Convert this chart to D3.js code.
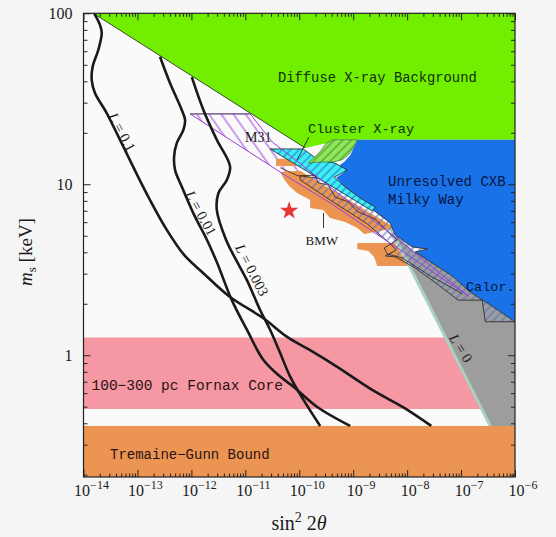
<!DOCTYPE html>
<html>
<head>
<meta charset="utf-8">
<script src="https://cdn.jsdelivr.net/npm/d3@7"></script>
<style>
  body { margin: 0; background: #f5f5f5; }
  svg { display: block; }
</style>
</head>
<body>
<script>
// axis extent: sin^2 2theta and m_s [keV]
const xDomain = [1e-14, 1e-6];
const yDomain = [0.194, 100];
const xTickExponents = [-14, -13, -12, -11, -10, -9, -8, -7, -6];
const yTickLabels = [[1, '1'], [10, '10'], [100, '100']];

// horizontal bands, [m low, m high] in keV
const fornaxBand = [0.485, 1.27];
const tremaineGunnBand = [0.194, 0.386];

// regions as [sin^2 2theta, m_s]
const dxbRegion = [[1.52e-14, 100], [1e-6, 100], [1e-6, 18.2], [1.19e-9, 18.2], [4.26e-10, 18.2],
  [3.15e-10, 17.4], [1.29e-10, 16.3]];
const dxbEdge = [[1.52e-14, 100], [1.29e-10, 16.3]];

const cxbRegion = [[1.19e-9, 18.2], [1e-6, 18.2], [1e-6, 1.57], [3.48e-7, 1.97], [1.48e-7, 2.34],
  [6.87e-8, 2.91], [3.32e-8, 3.37], [1.41e-8, 4.02], [2.36e-8, 4.18], [1.24e-8, 4.30],
  [6.01e-9, 5.05], [4.85e-9, 5.94], [2.35e-9, 7.08], [1.09e-9, 8.55], [7.11e-10, 9.51],
  [4.84e-10, 10.9], [7.41e-10, 12.0], [4.84e-10, 12.5], [6.81e-10, 13.5], [8.79e-10, 14.8],
  [1.04e-9, 16.5]];

const calorRegion = [[4.85e-9, 5.55], [3.48e-7, 0.386], [1e-6, 0.386], [1e-6, 1.57],
  [3.48e-7, 1.97], [1.48e-7, 2.34], [6.87e-8, 2.91], [3.32e-8, 3.37], [1.41e-8, 4.02],
  [6.01e-9, 5.05]];
const zeroLepton = [[4.85e-9, 5.55], [3.48e-7, 0.386]];

const m31Region = [[9.46e-13, 25.8], [1.23e-11, 25.8], [3.14e-11, 17.7], [3.74e-10, 9.64],
  [7.45e-9, 4.66], [1.36e-7, 2.22], [7.45e-9, 4.13], [3.74e-10, 7.78], [5.47e-11, 11.3]];

const clusterCyan = [[2.88e-11, 16.1], [1.18e-10, 16.1], [2.25e-10, 13.9], [4.63e-10, 13.3],
  [7.75e-10, 12.1], [4.43e-10, 11.0], [7.11e-10, 9.64], [1.35e-9, 8.31], [2.56e-9, 7.36],
  [2.26e-9, 6.98]];
const clusterGreen = [[1.46e-10, 13.3], [2.44e-10, 15.5], [3.15e-10, 17.4], [4.26e-10, 18.2],
  [1.19e-9, 18.2], [1.0e-9, 16.3], [8.07e-10, 14.8], [6.25e-10, 13.9], [4.26e-10, 13.5],
  [2.44e-10, 13.5]];

const bmwTop = [[3.72e-11, 14.1], [1.0e-10, 14.1], [1.1e-10, 12.8], [3.72e-11, 12.8]];
const bmwMid = [[4.43e-11, 11.8], [1.04e-10, 12.0], [6.01e-9, 5.55], [1.60e-9, 5.12],
  [1.19e-9, 5.55], [7.11e-10, 6.02], [3.74e-10, 6.35], [2.77e-10, 7.08], [1.59e-10, 7.27],
  [1.59e-10, 8.09], [9.14e-11, 8.89], [6.50e-11, 9.77], [5.25e-11, 10.7]];
const bmwLow = [[1.19e-9, 4.54], [6.01e-9, 4.54], [1.05e-8, 3.33], [2.79e-9, 3.33],
  [2.45e-9, 3.76], [1.90e-9, 4.07], [1.19e-9, 4.18]];

const hatchedBand = [[1.04e-10, 11.2], [4.84e-10, 10.5], [1.09e-9, 8.55], [2.35e-9, 7.08],
  [4.85e-9, 5.94], [6.01e-9, 5.05], [1.24e-8, 4.30], [2.36e-8, 4.18], [1.41e-8, 4.02],
  [3.32e-8, 3.37], [6.87e-8, 2.91], [1.48e-7, 2.34], [3.48e-7, 1.97], [1e-6, 1.57],
  [2.81e-7, 1.57], [2.47e-7, 2.10], [8.87e-8, 2.10], [3.78e-8, 2.58], [1.41e-8, 3.24],
  [6.01e-9, 3.76], [3.93e-9, 3.81], [6.28e-9, 4.13], [4.46e-9, 4.60], [1.82e-9, 5.86],
  [3.74e-10, 8.09], [1.04e-10, 10.6]];
const bmwEdge = [[4.43e-11, 12.5], [9.55e-11, 11.2], [1.97e-10, 11.3], [2.25e-10, 10.2],
  [3.44e-10, 9.91], [4.63e-10, 8.43], [8.07e-10, 7.88], [1.24e-9, 6.89], [2.56e-9, 6.27],
  [4.46e-9, 5.26], [6.55e-9, 4.72], [3.76e-9, 4.24], [4.28e-9, 3.91], [8.11e-9, 3.71],
  [2.69e-8, 2.91], [8.49e-8, 2.38], [1.05e-7, 2.28]];

// lepton asymmetry curves
const curveL01 = [[1.58e-14, 100], [2.02e-14, 85.5], [2.18e-14, 76.7], [1.88e-14, 61.0],
  [1.48e-14, 48.8], [1.42e-14, 40.7], [1.63e-14, 34.2], [2.69e-14, 26.1], [4.75e-14, 18.2],
  [8.39e-14, 12.6], [1.71e-13, 8.09], [3.50e-13, 5.41], [7.33e-13, 3.86], [1.65e-12, 3.03],
  [5.22e-12, 2.19], [2.14e-11, 1.65], [5.96e-11, 1.28], [1.59e-10, 1.07], [5.05e-10, 0.855],
  [2.25e-9, 0.627], [8.83e-9, 0.492], [2.80e-8, 0.386]];
const curveL001 = [[2.62e-13, 55.7], [4.03e-13, 39.0], [6.64e-13, 27.2], [7.64e-13, 23.8],
  [7.11e-13, 20.8], [5.36e-13, 17.4], [4.78e-13, 14.5], [4.99e-13, 12.1], [6.64e-13, 9.68],
  [1.09e-12, 6.76], [1.95e-12, 4.72], [3.00e-12, 3.47], [5.62e-12, 2.10], [1.07e-11, 1.41],
  [2.17e-11, 0.938], [4.43e-11, 0.750], [7.80e-11, 0.655], [2.12e-10, 0.500], [8.79e-10, 0.386]];
const curveL0003 = [[1.02e-12, 42.3], [1.67e-12, 27.2], [2.96e-12, 18.2], [5.22e-12, 12.7],
  [4.54e-12, 10.6], [3.17e-12, 8.86], [2.96e-12, 7.08], [4.41e-12, 4.72], [6.75e-12, 3.61],
  [1.07e-11, 2.75], [1.88e-11, 1.84], [2.88e-11, 1.41], [4.43e-11, 1.03], [6.78e-11, 0.750],
  [1.20e-10, 0.548], [2.44e-10, 0.386]];

const starPoint = [6.5e-11, 7.0];

const margin = { top: 13.3, left: 83.5 };
const width = 431.5;
const height = 463.7;

const svg = d3.select('body')
    .append('svg')
    .attr('width', 556)
    .attr('height', 537);

const defs = svg.append('defs');
defs.append('clipPath').attr('id', 'plot-clip')
    .append('rect').attr('width', width).attr('height', height);

function hatch(id, color, spacing, angle, lw) {
    const p = defs.append('pattern')
        .attr('id', id)
        .attr('patternUnits', 'userSpaceOnUse')
        .attr('width', spacing)
        .attr('height', spacing)
        .attr('patternTransform', `rotate(${angle})`);
    p.append('line')
        .attr('x1', spacing / 2).attr('y1', 0)
        .attr('x2', spacing / 2).attr('y2', spacing)
        .attr('stroke', color)
        .attr('stroke-width', lw);
}
hatch('hatch-blue', '#4a6fc4', 6, 45, 1);
hatch('hatch-cyan', '#2b62d4', 6, 45, 1);
hatch('hatch-green', '#3d8c2c', 6, 45, 1);
hatch('hatch-purple', '#a040e0', 10, -35, 1);

const x = d3.scaleLog().domain(xDomain).range([0, width]);
const y = d3.scaleLog().domain(yDomain).range([height, 0]);

const line = d3.line().x(d => x(d[0])).y(d => y(d[1]));
const smooth = d3.line().x(d => x(d[0])).y(d => y(d[1])).curve(d3.curveCatmullRom.alpha(0.5));
const closed = pts => line(pts) + 'Z';

const g = svg.append('g')
    .attr('transform', `translate(${margin.left}, ${margin.top})`);

g.append('rect')
    .attr('width', width)
    .attr('height', height)
    .attr('fill', '#fafafa');

const plot = g.append('g').attr('clip-path', 'url(#plot-clip)');

// bands
plot.append('rect')
    .attr('x', x(xDomain[0]))
    .attr('width', x(xDomain[1]) - x(xDomain[0]))
    .attr('y', y(fornaxBand[1]))
    .attr('height', y(fornaxBand[0]) - y(fornaxBand[1]))
    .attr('fill', '#f598a4');

plot.append('rect')
    .attr('x', x(xDomain[0]))
    .attr('width', x(xDomain[1]) - x(xDomain[0]))
    .attr('y', y(tremaineGunnBand[1]))
    .attr('height', y(tremaineGunnBand[0]) - y(tremaineGunnBand[1]))
    .attr('fill', '#ec9552');

// diffuse X-ray background
plot.append('path').attr('d', closed(dxbRegion)).attr('fill', '#72ee00');
plot.append('path').attr('d', line(dxbEdge)).attr('fill', 'none')
    .attr('stroke', '#2a3a2a').attr('stroke-width', 0.9);

// M31 hatch (outline drawn later)
plot.append('path').attr('d', closed(m31Region)).attr('fill', 'url(#hatch-purple)');

// calorimeter / L=0 region
plot.append('path').attr('d', closed(calorRegion)).attr('fill', '#9d9d9d');

// BMW patches
[bmwTop, bmwMid, bmwLow].forEach(p => {
    plot.append('path').attr('d', closed(p)).attr('fill', '#ec9552');
});

// unresolved CXB / Milky Way
plot.append('path').attr('d', closed(cxbRegion)).attr('fill', '#1a72e8');

plot.append('path').attr('d', line(zeroLepton)).attr('fill', 'none')
    .attr('stroke', '#abcfc0').attr('stroke-width', 3);

// hatched band
plot.append('path').attr('d', closed(hatchedBand))
    .attr('fill', 'url(#hatch-blue)')
    .attr('stroke', '#222').attr('stroke-width', 0.8);

// cluster X-ray
plot.append('path').attr('d', closed(clusterCyan)).attr('fill', '#3cf0f2');
plot.append('path').attr('d', closed(clusterCyan)).attr('fill', 'url(#hatch-cyan)')
    .attr('stroke', '#222').attr('stroke-width', 0.8);
plot.append('path').attr('d', closed(clusterGreen)).attr('fill', '#8ee65a');
plot.append('path').attr('d', closed(clusterGreen)).attr('fill', 'url(#hatch-green)')
    .attr('stroke', '#2f5f2a').attr('stroke-width', 0.6);

plot.append('path').attr('d', line(bmwEdge)).attr('fill', 'none')
    .attr('stroke', '#222').attr('stroke-width', 0.8);

// M31 outline
plot.append('path').attr('d', closed(m31Region)).attr('fill', 'none')
    .attr('stroke', '#9a3fd8').attr('stroke-width', 1);
plot.append('path').attr('d', line(m31Region.slice(0, 2))).attr('fill', 'none')
    .attr('stroke', '#666').attr('stroke-width', 1);

// L curves
[curveL01, curveL001, curveL0003].forEach(c => {
    plot.append('path').attr('d', smooth(c)).attr('fill', 'none')
        .attr('stroke', '#1a1a1a').attr('stroke-width', 2.6);
});

// star
plot.append('path')
    .attr('d', d3.symbol(d3.symbolStar).size(104)())
    .attr('transform', `translate(${x(starPoint[0])}, ${y(starPoint[1])})`)
    .attr('fill', '#e63535');

// annotations (page pixels)
const ann = svg.append('g').attr('font-family', '"Liberation Mono", monospace');
const mono = (t, px, py, size, color) => ann.append('text')
    .attr('x', px).attr('y', py)
    .attr('font-size', size)
    .attr('fill', color)
    .text(t);
mono('Diffuse X-ray Background', 278, 82, 13.8, '#10300a');
mono('Cluster X-ray', 308, 132.5, 13.6, '#10300a');
mono('Unresolved CXB', 388, 186, 14, '#061640');
mono('Milky Way', 388, 203.5, 14, '#061640');
mono('Calor.', 466, 291, 13.5, '#061640');
mono('100\u2212300 pc Fornax Core', 91.5, 389.5, 14.5, '#2a1212');
mono('Tremaine\u2212Gunn Bound', 110, 458.5, 14, '#2a1212');

const serif = svg.append('g').attr('font-family', '"Liberation Serif", serif').attr('fill', '#1a1a1a');
serif.append('text').attr('x', 245).attr('y', 141.5).attr('font-size', 14).text('M31');
serif.append('text').attr('x', 305.5).attr('y', 245).attr('font-size', 13).text('BMW');

svg.append('line').attr('x1', 309).attr('y1', 137).attr('x2', 297).attr('y2', 160)
    .attr('stroke', '#222').attr('stroke-width', 0.9);
svg.append('line').attr('x1', 323.5).attr('y1', 213).attr('x2', 323.5).attr('y2', 228)
    .attr('stroke', '#222').attr('stroke-width', 0.9);

const lLabel = (val, cx, cy, angle) => {
    const t = serif.append('text')
        .attr('transform', `translate(${cx}, ${cy}) rotate(${angle})`)
        .attr('text-anchor', 'middle')
        .attr('dy', '0.35em')
        .attr('font-size', 14.5);
    t.append('tspan').attr('font-style', 'italic').text('L');
    t.append('tspan').text(' = ' + val);
};
lLabel('0.1', 122, 132, 62);
lLabel('0.01', 201, 213, 61);
lLabel('0.003', 252, 270, 63);
lLabel('0', 461, 348, 58);

// frame and ticks
g.append('rect')
    .attr('width', width)
    .attr('height', height)
    .attr('fill', 'none')
    .attr('stroke', '#222')
    .attr('stroke-width', 1.2);

const xMajor = xTickExponents.map(e => Math.pow(10, e));
const xMinor = [];
xTickExponents.slice(0, -1).forEach(e => {
    for (let k = 2; k <= 9; k++) xMinor.push(k * Math.pow(10, e));
});
const yMinor = [];
[-1, 0, 1].forEach(e => {
    for (let k = 2; k <= 9; k++) {
        const v = k * Math.pow(10, e);
        if (v >= yDomain[0] && v <= yDomain[1]) yMinor.push(v);
    }
});
const yMajor = yTickLabels.map(d => d[0]);

function ticks(axis, vals, size, transform) {
    g.append('g')
        .attr('transform', transform)
        .call(axis.tickValues(vals).tickSize(-size).tickFormat(''))
        .call(s => s.select('.domain').remove())
        .call(s => s.selectAll('line').attr('stroke', '#222'));
}
ticks(d3.axisBottom(x), xMajor, 7, `translate(0, ${height})`);
ticks(d3.axisBottom(x), xMinor, 3.5, `translate(0, ${height})`);
ticks(d3.axisTop(x), xMajor, 7, 'translate(0, 0)');
ticks(d3.axisTop(x), xMinor, 3.5, 'translate(0, 0)');
ticks(d3.axisLeft(y), yMajor, 7, 'translate(0, 0)');
ticks(d3.axisLeft(y), yMinor, 4, 'translate(0, 0)');
ticks(d3.axisRight(y), yMajor, 7, `translate(${width}, 0)`);
ticks(d3.axisRight(y), yMinor, 4, `translate(${width}, 0)`);

// tick labels
const labels = g.append('g').attr('font-family', '"Liberation Serif", serif').attr('fill', '#1a1a1a');
xTickExponents.forEach(e => {
    const t = labels.append('text')
        .attr('x', x(Math.pow(10, e)) + 8)
        .attr('y', height + 19)
        .attr('text-anchor', 'middle');
    t.append('tspan').attr('font-size', 16).text('10');
    t.append('tspan').attr('font-size', 12).attr('dy', -7).text('\u2212' + Math.abs(e));
});
yTickLabels.forEach(([v, s]) => {
    labels.append('text')
        .attr('x', -11)
        .attr('y', y(v) + 5.5)
        .attr('text-anchor', 'end')
        .attr('font-size', 16)
        .text(s);
});

// axis titles
const xt = svg.append('text')
    .attr('x', 299)
    .attr('y', 530)
    .attr('text-anchor', 'middle')
    .attr('font-family', '"Liberation Serif", serif')
    .attr('font-size', 20)
    .attr('fill', '#1a1a1a');
xt.append('tspan').text('sin');
xt.append('tspan').attr('font-size', 14).attr('dy', -8).text('2');
xt.append('tspan').attr('dy', 8).attr('dx', 5).text('2');
xt.append('tspan').attr('font-style', 'italic').text('\u03b8');

const yt = svg.append('text')
    .attr('transform', 'translate(32, 252) rotate(-90)')
    .attr('text-anchor', 'middle')
    .attr('font-family', '"Liberation Serif", serif')
    .attr('font-size', 19)
    .attr('fill', '#1a1a1a');
yt.append('tspan').attr('font-style', 'italic').text('m');
yt.append('tspan').attr('font-size', 13).attr('dy', 4).text('s');
yt.append('tspan').attr('dy', -4).text(' [keV]');
</script>
</body>
</html>
